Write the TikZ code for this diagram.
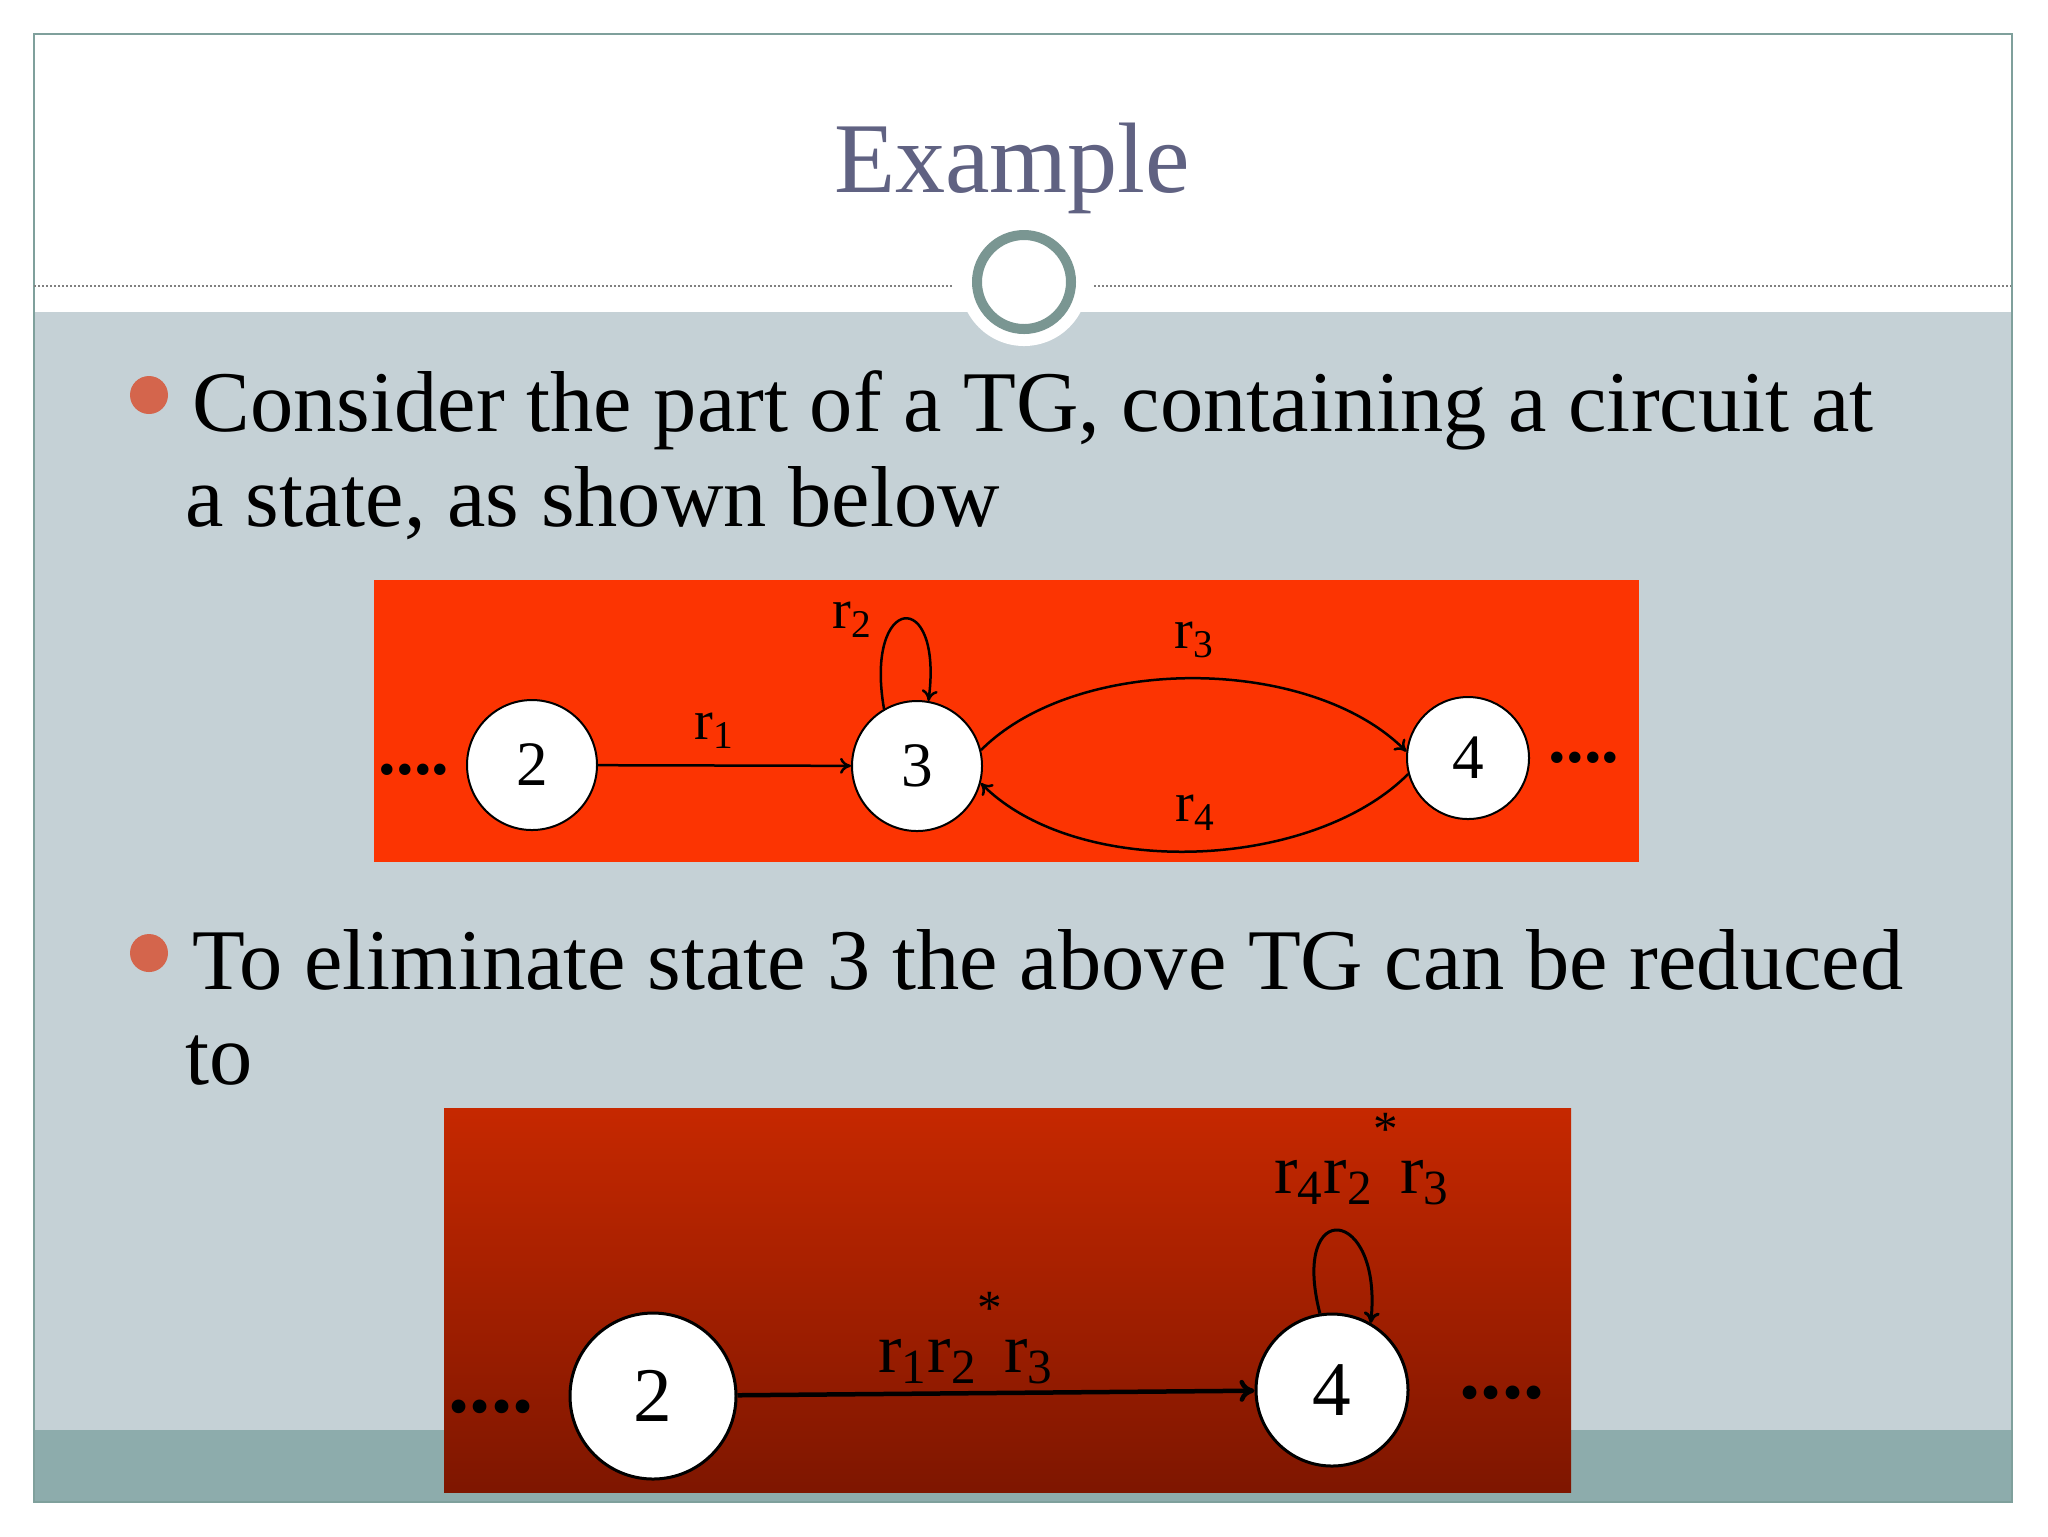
\documentclass[tikz,border=0pt]{standalone}
\usepackage{fontspec}
\setmainfont{Liberation Serif}
\usetikzlibrary{arrows.meta}

\definecolor{fondo}{RGB}{197,209,214}
\definecolor{banda}{RGB}{141,172,172}
\definecolor{marco}{RGB}{127,160,156}
\definecolor{anillo}{RGB}{122,150,146}
\definecolor{titulo}{RGB}{96,98,130}
\definecolor{vineta}{RGB}{212,101,76}
\definecolor{naranja}{RGB}{252,52,2}
\definecolor{rojoA}{RGB}{198,40,0}
\definecolor{rojoB}{RGB}{126,22,0}

\newcommand{\estr}{\textsuperscript{\raisebox{0.45em}{*}}}

\begin{document}
\begin{tikzpicture}[x=0.1mm, y=-0.1mm,
    estado/.style={circle, draw=black, fill=white, line width=0.2mm, inner sep=0pt,
        minimum size=13mm, font=\fontsize{18}{18}\selectfont},
    estadoB/.style={estado, line width=0.3mm, minimum size=16.6mm, font=\fontsize{22}{22}\selectfont},
    flecha/.style={-{To[length=1.1mm,width=1.6mm]}, line width=0.25mm},
    flechaB/.style={-{To[length=1.5mm,width=2.2mm]}, line width=0.45mm},
    etiq/.style={inner sep=0pt, font=\fontsize{16}{16}\selectfont},
    etiqB/.style={inner sep=0pt, font=\fontsize{20}{20}\selectfont},
    puntos/.style={inner sep=0pt, font=\bfseries\fontsize{20}{20}\selectfont},
    texto/.style={anchor=base west, inner sep=0pt, font=\fontsize{24.6}{27}\selectfont}
]
\useasboundingbox (0,0) rectangle (2048,1536);

% Fondo de la diapositiva
\fill[white] (0,0) rectangle (2048,1536);
\fill[fondo] (34,312) rectangle (2012,1430);
\fill[banda] (34,1430) rectangle (2012,1502);
\draw[marco, line width=0.2mm] (34,34) rectangle (2012,1502);

% Linea punteada y anillo
\draw[gray, line width=0.15mm, dash pattern=on 0.2mm off 0.2mm] (34,286) -- (953,286);
\draw[gray, line width=0.15mm, dash pattern=on 0.2mm off 0.2mm] (1094,286) -- (2011,286);
\fill[white] (1024,282) circle (64);
\draw[anillo, line width=1mm] (1024,282) circle (47);

% Titulo
\node[anchor=base, inner sep=0pt, text=titulo, font=\fontsize{28.5}{30}\selectfont] (tit) at (1012,192) {Example};

% Vinetas
\fill[vineta] (149,395) circle (19);
\node[texto] (l1a) at (192,431) {Consider the part of a TG, containing a circuit at};
\node[texto] (l1b) at (185,526) {a state, as shown below};
\fill[vineta] (149,953) circle (19);
\node[texto] (l2a) at (192,989) {To eliminate state 3 the above TG can be reduced};
\node[texto] (l2b) at (185,1084) {to};

% Primer grafo
\fill[naranja] (374,580) rectangle (1639,862);
\node[estado] (e2) at (532,765) {2};
\node[estado] (e3) at (917,766) {3};
\node[estado, minimum size=12.2mm] (e4) at (1468,758) {4};
\node[puntos] (p1) at (414,770) {....};
\node[puntos] (p2) at (1584,758) {....};
\draw[flecha] (e2) -- (e3);
\draw[flecha] (e3.120) .. controls +(-20,-115) and +(15,-115) .. (e3.80);
\draw[flecha] (e3.14) to[out=45, in=135, looseness=0.82] (e4.174);
\draw[flecha] (e4.195) to[out=-135, in=-45, looseness=0.82] (e3.345);
\node[etiq] (r1) at (715,731) {r\textsubscript{1}};
\node[etiq] (r2) at (853,620) {r\textsubscript{2}};
\node[etiq] (r3) at (1195,640) {r\textsubscript{3}};
\node[etiq] (r4) at (1196,813) {r\textsubscript{4}};

% Grafo reducido
\shade[top color=rojoA, bottom color=rojoB] (444,1108) rectangle (1571,1492);
\node[estadoB] (f2) at (653,1396) {2};
\node[estadoB, minimum size=15.2mm] (f4) at (1332,1390) {4};
\node[puntos, font=\bfseries\fontsize{24}{24}\selectfont] (q1) at (491,1407) {....};
\node[puntos, font=\bfseries\fontsize{24}{24}\selectfont] (q2) at (1502,1393) {....};
\draw[flechaB] (f2) -- (f4);
\draw[flecha, line width=0.3mm] (f4.99) .. controls +(-30,-117) and +(12,-117) .. (f4.60);
\node[etiqB] (s1) at (966,1338) {r\textsubscript{1}r\textsubscript{2}\estr r\textsubscript{3}};
\node[etiqB] (s2) at (1362,1159) {r\textsubscript{4}r\textsubscript{2}\estr r\textsubscript{3}};

\end{tikzpicture}
\end{document}
